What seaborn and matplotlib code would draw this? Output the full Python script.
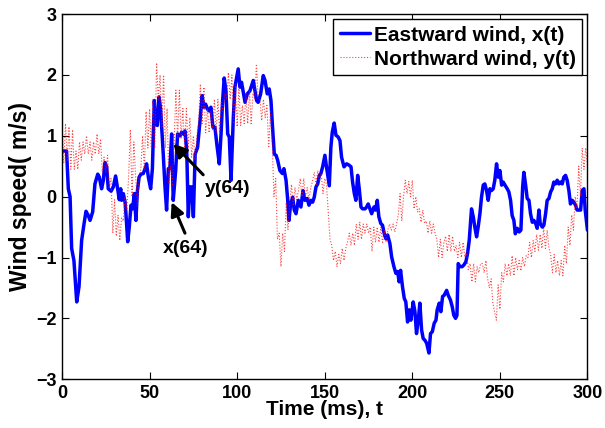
import numpy as np
import pandas as pd
import matplotlib
matplotlib.use("Agg")
import matplotlib.pyplot as plt
import seaborn as sns

# ---------------- data ----------------
east_t = [0, 2.6, 3.6, 4.6, 5.5, 6.8, 8.4, 9.7, 11.2, 12.6, 13.7, 15, 16, 17.5, 18.8, 20.4, 21.3, 22.6, 23.6, 24.5,
          25.5, 26.4, 28, 29.3, 30.6, 31.6, 32.7, 33.5, 34, 35, 36, 36.5, 37.5, 38.4, 39.4, 40.3, 41.3, 42.2, 43, 44,
          45, 46.4, 47.4, 48.3, 49.3, 50.6, 51.6, 52.3, 52.7, 53.5, 54.4, 55.4, 56.3, 57.8, 58.8, 59.7, 60.7, 61.6, 62.6, 63.5,
          64.9, 66, 67.4, 68.3, 69.3, 70.2, 71.2, 72.1, 73, 74, 75, 76, 77.4, 78.8, 80, 81, 82, 83, 84, 85,
          86.2, 87.3, 88.6, 89.8, 90.8, 91.7, 92.6, 93.6, 94.6, 95.5, 96.5, 97.8, 98.7, 100.6, 101.6, 102.5, 103.5, 104.5, 105.8, 107.3,
          109.2, 110.2, 111.1, 112, 113.4, 114.9, 115.9, 117.2, 118.3, 119.3, 120.2, 121.2, 122.2, 123.1, 124.4, 125.8, 126.7, 127.9, 128.8, 129.6,
          130.5, 131.7, 132.6, 133.6, 134.9, 136.4, 137.6, 138.7, 140, 141, 142.1, 143.1, 144, 145, 146, 146.9, 147.8, 148.8, 150.1, 151,
          152.6, 153.5, 154.3, 155.4, 156.4, 157.7, 158.7, 159.6, 161, 162.5, 163.8, 165, 165.9, 166.9, 167.8, 168.8, 169.7, 170.7, 171.6, 173,
          173.9, 174.8, 175.8, 176.8, 178.1, 179, 180, 180.9, 182, 183, 184, 184.9, 185.9, 187.2, 188.2, 189.5, 190.6, 191.6, 192.5, 193.3,
          194.4, 195.4, 196.3, 197.3, 198.3, 199.2, 200.5, 201.5, 202.4, 203.4, 204.3, 205.3, 206.2, 207.2, 208.2, 209.5, 210.4, 211.4, 212.5, 213.5,
          214.2, 215.4, 216.3, 217.3, 218.2, 219.6, 220.5, 221.8, 222.8, 223.7, 224.7, 225.5, 226.2, 227.2, 228.5, 229.5, 230.6, 231.5, 232.5, 233.8,
          234.8, 235.7, 236.7, 237.6, 238.6, 239.5, 240.5, 241.4, 242.4, 243.3, 244.3, 245.2, 246.2, 247.1, 248.1, 249.1, 250, 251, 251.9, 252.9,
          254.2, 255.1, 256.1, 257, 258, 258.8, 259.9, 261, 262, 263, 263.7, 264.7, 265.6, 266.6, 267.5, 268.5, 269.4, 270.4, 271.3, 272.3,
          273, 274.2, 275.1, 276.1, 277, 278, 279, 279.9, 280.8, 281.8, 282.7, 283.7, 284.6, 285.6, 286.5, 287.5, 288.4, 289.4, 290.3, 291.3,
          292.2, 293.2, 294.1, 295.1, 296.1, 297, 298, 298.7, 300]
east_v = [0.75, 0.75, 0.13, 0.0, -0.85, -1.05, -1.73, -1.48, -0.72, -0.44, -0.24, -0.31, -0.39, -0.25, 0.21, 0.37, 0.32, 0.13, 0.27, 0.56,
          0.49, 0.13, 0.09, 0.16, 0.34, 0.16, -0.05, 0.13, -0.06, 0.05, -0.09, -0.28, -0.74, -0.5, -0.14, -0.2, 0.05, -0.39, 0.08, 0.32,
          0.37, 0.38, 0.46, 0.54, 0.32, 0.13, 0.46, 1.14, 1.58, 1.22, 1.17, 1.64, 1.44, 0.7, 0.16, -0.22, 0.46, 0.46, 1.03, -0.06,
          0.43, 1.03, 1.0, 1.06, 1.03, 1.08, 0.76, -0.33, 0.16, 0.16, -0.33, 0.7, 0.81, 1.25, 1.66, 1.47, 1.52, 1.44, 1.41, 1.47,
          1.14, 1.14, 0.81, 0.54, 1.03, 1.58, 1.95, 1.74, 1.03, 0.98, 0.27, 1.3, 1.8, 2.1, 1.8, 1.88, 1.71, 1.55, 1.69, 1.74,
          1.91, 1.74, 1.58, 1.55, 1.69, 1.99, 1.91, 1.69, 1.77, 1.58, 1.14, 0.7, 0.68, 0.6, 0.43, 0.38, 0.46, 0.27, -0.03, -0.39,
          -0.12, -0.01, -0.22, -0.28, -0.06, -0.17, 0.10, -0.06, -0.03, -0.14, -0.06, -0.09, -0.01, 0.16, 0.21, 0.35, 0.38, 0.49, 0.68, 0.49,
          0.18, 0.81, 1.06, 1.21, 1.01, 0.98, 0.92, 0.65, 0.49, 0.54, 0.52, 0.49, 0.24, 0.05, -0.06, 0.35, 0.13, -0.17, -0.2, -0.2,
          -0.17, -0.12, -0.2, -0.28, -0.17, -0.22, -0.06, -0.33, -0.44, -0.47, -0.61, -0.69, -0.63, -0.77, -0.99, -1.15, -1.26, -1.23, -1.4, -1.21,
          -1.48, -1.67, -1.73, -2.06, -1.86, -2.03, -1.73, -1.89, -2.25, -2.03, -1.75, -2.19, -2.33, -2.36, -2.41, -2.57, -2.25, -2.22, -2.08, -2.03,
          -1.86, -1.75, -1.89, -1.64, -1.62, -1.54, -1.62, -1.7, -1.81, -1.95, -2.0, -1.95, -1.1, -1.15, -1.15, -1.12, -1.07, -0.94, -0.72, -0.2,
          -0.33, -0.5, -0.66, -0.5, -0.28, -0.01, 0.19, 0.21, 0.10, -0.06, 0.13, 0.10, 0.13, 0.27, 0.54, 0.32, 0.43, 0.19, 0.24, 0.19,
          0.13, 0.08, -0.06, -0.31, -0.39, -0.61, -0.52, -0.58, -0.55, 0.16, 0.4, 0.19, -0.03, -0.06, -0.28, -0.42, -0.39, -0.44, -0.52, -0.22,
          -0.44, -0.5, -0.47, -0.28, -0.06, -0.03, 0.08, 0.13, 0.24, 0.21, 0.27, 0.21, 0.24, 0.21, 0.32, 0.35, 0.27, 0.1, -0.12, -0.06,
          -0.09, -0.14, -0.22, -0.22, -0.22, 0.10, 0.13, -0.22, -0.55]

north_t = list(range(0, 301))
north_v = [1.2, 0.55, 1.2, 0.6, 1.15, 0.45, 1.1, 0.45, 0.75, 0.45,
           0.9, 0.6, 0.9, 0.7, 1.0, 0.7, 0.9, 0.6, 0.9, 0.7,
           1.03, 0.7, 0.95, 0.4, 0.65, 0.4, 0.68, 0.15, 0.3, -0.6,
           -0.05, -0.65, -0.3, -0.72, -0.35, -0.4, 0.0, -0.2, 0.3, 1.1,
           0.0, 0.9, 0.35, -0.15, 0.3, 0.45, 1.0, 0.45, 1.4, 0.8,
           1.44, 0.8, 1.6, 0.8, 2.2, 1.6, 2.0, 1.15, 2.0, 0.8,
           1.45, 0.2, 0.5, 0.2, 0.85, 1.75, 0.95, 1.75, 0.95, 1.45,
           0.8, 1.45, 0.8, 1.3, 0.65, 1.0, 0.6, 1.0, 1.2, 1.85,
           1.2, 1.8, 1.05, 1.45, 1.05, 1.4, 1.1, 1.6, 1.05, 1.6,
           1.05, 1.55, 1.4, 1.7, 1.6, 2.04, 1.6, 2.0, 1.2, 1.85,
           1.15, 1.8, 1.17, 1.5, 1.2, 1.7, 1.2, 1.74, 1.2, 1.7,
           1.6, 2.18, 1.6, 1.6, 1.25, 1.6, 1.3, 1.5, 0.8, 1.4,
           0.9, 0.0, 0.3, -0.7, -0.6, -1.15, -0.6, -0.9, -0.1, -0.55,
           -0.1, 0.2, -0.15, 0.15, -0.05, 0.1, 0.3, 0.0, 0.3, 0.0,
           0.15, -0.05, 0.15, 0.25, 0.4, 0.2, 0.43, 0.25, 0.38, 0.05,
           0.3, 0.2, -0.25, -0.7, -0.8, -1.05, -0.9, -1.15, -0.95, -1.1,
           -0.85, -1.05, -0.85, -0.75, -0.6, -0.8, -0.6, -0.8, -0.45, -0.7,
           -0.42, -0.7, -0.45, -0.6, -0.45, -0.6, -0.5, -0.9, -0.5, -0.75,
           -0.5, -0.75, -0.5, -0.75, -0.55, -0.75, -0.55, -0.45, -0.55, -0.45,
           -0.58, -0.45, -0.3, 0.05, -0.4, 0.0, 0.27, 0.05, 0.25, 0.0,
           0.27, -0.2, 0.0, -0.25, -0.2, -0.42, -0.22, -0.44, -0.4, -0.6,
           -0.4, -0.6, -0.45, -0.6, -0.7, -1.0, -0.7, -1.0, -0.75, -0.65,
           -0.9, -0.62, -0.9, -0.65, -0.9, -0.8, -1.0, -0.75, -1.0, -0.75,
           -1.0, -0.9, -1.2, -1.1, -1.4, -1.1, -1.4, -1.15, -1.25, -1.1,
           -1.1, -1.25, -1.05, -1.35, -1.5, -1.35, -1.75, -1.9, -2.03, -1.45,
           -1.85, -1.25, -1.4, -1.1, -1.3, -1.1, -1.3, -0.97, -1.3, -1.0,
           -1.2, -1.05, -1.22, -1.0, -1.15, -0.97, -1.0, -0.75, -1.0, -0.72,
           -0.9, -0.62, -0.88, -0.62, -0.85, -0.52, -0.85, -0.55, -0.85, -0.95,
           -1.25, -0.95, -1.25, -1.05, -1.3, -1.05, -1.3, -0.8, -1.1, -0.5,
           -0.8, -0.3, -0.55, 0.0, -0.2, 0.5, 0.0, 0.8, 0.45, 0.8,
           0.5]

series_labels = ["Eastward wind, x(t)", "Northward wind, y(t)"]
x_ticks = [0, 50, 100, 150, 200, 250, 300]
y_ticks = [-3, -2, -1, 0, 1, 2, 3]

# annotation anchors (data coordinates)
x64_head, x64_tail, x64_text = (62.6, -0.09), (70.2, -0.60), (70.5, -0.86)
y64_head, y64_tail, y64_text = (63.5, 0.87), (80.6, 0.36), (94.5, 0.13)

# ---------------- styling ----------------
sns.set_style("ticks")
plt.rcParams["font.family"] = ["Liberation Sans", "DejaVu Sans"]
plt.rcParams["font.weight"] = "bold"
plt.rcParams["axes.labelweight"] = "bold"
plt.rcParams["text.color"] = "black"
plt.rcParams["axes.labelcolor"] = "black"
plt.rcParams["xtick.color"] = "black"
plt.rcParams["ytick.color"] = "black"
plt.rcParams["axes.edgecolor"] = "black"

fig = plt.figure(figsize=(6.05, 4.28), dpi=100)
ax = fig.add_axes([0.1025, 0.114, 0.8685, 0.853])

df_e = pd.DataFrame({"t": east_t, "v": east_v})
df_n = pd.DataFrame({"t": north_t, "v": north_v})

sns.lineplot(data=df_e, x="t", y="v", ax=ax, color="#0000ff", lw=2.5,
             label=series_labels[0], estimator=None, sort=False)
sns.lineplot(data=df_n, x="t", y="v", ax=ax, color="#ff0000", lw=0.8,
             linestyle=":", alpha=0.75, label=series_labels[1], estimator=None, sort=False)

ax.set_xlim(0, 300)
ax.set_ylim(-3, 3)
ax.set_xticks(x_ticks)
ax.set_yticks(y_ticks)
ax.set_xticklabels([str(v) for v in x_ticks], fontsize=13, fontweight="bold", color="black")
ax.set_yticklabels([f"{v}".replace("-", "\u2212") for v in y_ticks], fontsize=13, fontweight="bold", color="black")
ax.tick_params(direction="in", length=5, width=0.8, top=True, right=True, pad=4, colors="black")
for s in ax.spines.values():
    s.set_visible(True)
    s.set_linewidth(1.0)
    s.set_color("black")

ax.set_xlabel("Time (ms), t", fontsize=15, fontweight="bold", labelpad=-1, color="black")
ax.set_ylabel("Wind speed( m/s)", fontsize=16.5, fontweight="bold", labelpad=3, color="black")

arrow_kw = dict(arrowstyle="-|>", color="black", lw=2.2, mutation_scale=20, shrinkA=0, shrinkB=0)
ax.annotate("", xy=x64_head, xytext=x64_tail, arrowprops=arrow_kw)
ax.annotate("", xy=y64_head, xytext=y64_tail, arrowprops=arrow_kw)
ax.text(*x64_text, "x(64)", ha="center", va="center", fontsize=14, fontweight="bold", color="black")
ax.text(*y64_text, "y(64)", ha="center", va="center", fontsize=14, fontweight="bold", color="black")

leg = ax.legend(loc="upper right", fontsize=15, frameon=True, fancybox=False,
                edgecolor="black", framealpha=1, borderpad=0.3, handlelength=1.45,
                handletextpad=0.2, labelspacing=0.25, borderaxespad=0.25)
leg.get_frame().set_linewidth(1.0)
for t in leg.get_texts():
    t.set_fontweight("bold")
    t.set_color("black")

fig.savefig("out.png", dpi=100)
